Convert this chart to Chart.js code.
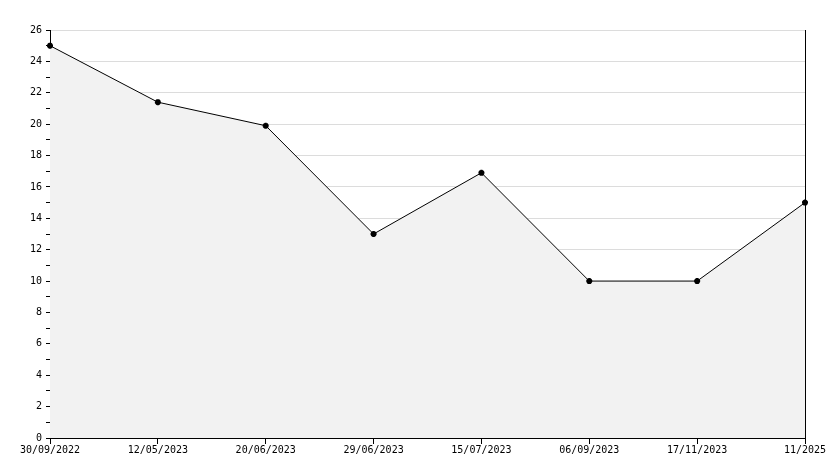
<!DOCTYPE html><html><head><script src="https://cdn.jsdelivr.net/npm/chart.js@4"></script>
<style>body{margin:0;background:#fff}#w{width:834px;height:468px}</style></head><body><div id="w"><canvas id="c"></canvas></div>
<script>
const categories=["30/09/2022","12/05/2023","20/06/2023","29/06/2023","15/07/2023","06/09/2023","17/11/2023","11/2025"];
const values=[25,21.4,19.9,13,16.9,10,10,15];
Chart.defaults.font.family="'DejaVu Sans Mono'";Chart.defaults.font.size=10;Chart.defaults.color="#000";
new Chart(document.getElementById('c'),{type:'line',data:{labels:categories,datasets:[{data:values,borderColor:'#000',borderWidth:1,backgroundColor:'#f2f2f2',fill:'origin',tension:0,pointStyle:'star',pointRadius:3,pointBorderColor:'#000',pointBackgroundColor:'#000',pointBorderWidth:2}]},
options:{responsive:true,maintainAspectRatio:false,animation:false,layout:{padding:{top:30,right:29,left:0,bottom:12}},plugins:{legend:{display:false},tooltip:{enabled:false}},
scales:{x:{offset:false,grid:{display:true,drawOnChartArea:false,color:'#000',tickLength:6},border:{color:'#000'},ticks:{maxRotation:0,autoSkip:false,padding:0}},
y:{min:0,max:26,afterFit:s=>{s.width=50;},ticks:{stepSize:1,padding:4,callback:v=>v%2===0?v:''},grid:{color:c=>c.tick&&c.tick.value%2===0&&c.tick.value>0?'#dcdcdc':'rgba(0,0,0,0)',tickColor:'#000',tickLength:4},border:{color:'#000'}}}},
plugins:[{id:'rb',afterDraw(ch){const a=ch.chartArea,x=ch.ctx;x.save();x.strokeStyle='#000';x.lineWidth=1;x.beginPath();x.moveTo(a.right+0.5,a.top);x.lineTo(a.right+0.5,a.bottom);x.stroke();x.restore();}}]});
</script></body></html>
